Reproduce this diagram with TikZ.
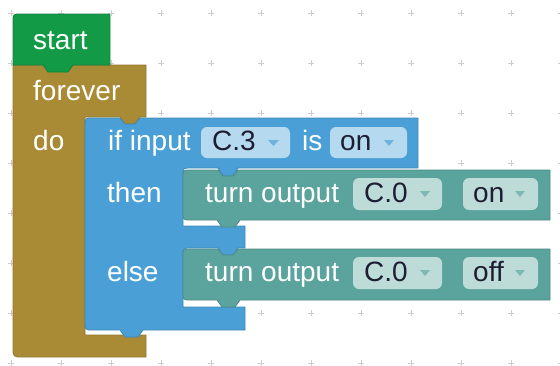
\documentclass[tikz,border=0pt]{standalone}
\usepackage{fontspec}
\setmainfont{Liberation Sans}
\usetikzlibrary{positioning}

\definecolor{startGreen}{HTML}{129A47}
\definecolor{foreverBrown}{HTML}{A98B36}
\definecolor{ifBlue}{HTML}{4AA0D6}
\definecolor{outTeal}{HTML}{5BA39D}
\definecolor{blueFieldFill}{HTML}{B5DAF0}
\definecolor{tealFieldFill}{HTML}{BDDCD8}
\definecolor{blueArrow}{HTML}{6FB2DD}
\definecolor{tealArrow}{HTML}{7DB8B3}
\definecolor{fieldInk}{HTML}{1E1E32}
\definecolor{gridGray}{HTML}{CCCCCC}

\begin{document}
\begin{tikzpicture}[x=1pt,y=-1pt,
	blocktext/.style={anchor=base west,inner sep=0pt,text=white,font=\fontsize{28}{30}\selectfont},
	fieldtext/.style={blocktext,text=fieldInk},
	blueField/.style={fill=blueFieldFill},
	tealField/.style={fill=tealFieldFill},
	gridcross/.style={draw=gridGray,line width=1pt}]
		
		\useasboundingbox (0,0) rectangle (560,365);
		
		%Workspace grid
		\foreach \gx in {0,...,11}{
			\foreach \gy in {0,...,7}{
				\draw[gridcross] (8+50*\gx,13+50*\gy) -- ++(6,0) (11+50*\gx,10+50*\gy) -- ++(0,6);
			}
		}
		
		%Forever block
		\filldraw[fill=foreverBrown,draw=foreverBrown!85!black,line width=0.8pt] (13,65) -- (146,65) -- (146,117) -- (140,117) -- (135,124) -- (125,124) -- (120,117) -- (85,117) -- (85,335) -- (146,335) -- (146,357) -- (23,357) .. controls (13,357) .. (13,347) -- cycle;
		
		%Start block
		\filldraw[fill=startGreen,draw=startGreen!85!black,line width=0.8pt] (13,65) -- (13,22) .. controls (13,14) .. (21,14) -- (108,14) .. controls (110,14) .. (110,16) -- (110,65) -- (73,65) -- (68,72) -- (48,72) -- (43,65) -- cycle;
		
		%If block
		\filldraw[fill=ifBlue,draw=ifBlue!85!black,line width=0.8pt] (85,126) .. controls (85,118) .. (93,118) -- (120,118) -- (125,124) -- (135,124) -- (140,118) -- (418,118) -- (418,168) -- (238,168) -- (233,176) -- (223,176) -- (218,168) -- (191,168) .. controls (183,168) .. (183,176) -- (183,226) -- (245,226) -- (245,248) -- (238,248) -- (233,255) -- (223,255) -- (218,248) -- (191,248) .. controls (183,248) .. (183,256) -- (183,307) -- (245,307) -- (245,330) -- (143,330) -- (138,337) -- (125,337) -- (120,330) -- (93,330) .. controls (85,330) .. (85,322) -- cycle;
		
		%Turn output blocks
		\filldraw[fill=outTeal,draw=outTeal!85!black,line width=0.8pt] (183,178) .. controls (183,170) .. (191,170) -- (218,170) -- (223,176) -- (233,176) -- (238,170) -- (550,170) -- (550,220) -- (240,220) -- (235,227) -- (222,227) -- (217,220) -- (191,220) .. controls (183,220) .. (183,212) -- cycle;
		\filldraw[fill=outTeal,draw=outTeal!85!black,line width=0.8pt] (183,257) .. controls (183,249) .. (191,249) -- (218,249) -- (223,255) -- (233,255) -- (238,249) -- (550,249) -- (550,300) -- (240,300) -- (235,307) -- (222,307) -- (217,300) -- (191,300) .. controls (183,300) .. (183,292) -- cycle;
		
		%Dropdown fields
		\fill[blueField,rounded corners=6pt] (201,127) rectangle (290,158);
		\fill[blueField,rounded corners=6pt] (330,127) rectangle (407,158);
		\fill[tealField,rounded corners=6pt] (353,178) rectangle (442,210);
		\fill[tealField,rounded corners=6pt] (463,178) rectangle (538,210);
		\fill[tealField,rounded corners=6pt] (353,257) rectangle (442,289);
		\fill[tealField,rounded corners=6pt] (463,257) rectangle (538,289);
		
		%Dropdown arrows
		\fill[blueArrow] (268,140) -- (279,140) -- (273.5,146) -- cycle;
		\fill[blueArrow] (384,140) -- (394,140) -- (389,146) -- cycle;
		\fill[tealArrow] (420,191) -- (430,191) -- (425,197) -- cycle;
		\fill[tealArrow] (515,191) -- (525,191) -- (520,197) -- cycle;
		\fill[tealArrow] (420,270) -- (430,270) -- (425,276) -- cycle;
		\fill[tealArrow] (515,270) -- (525,270) -- (520,276) -- cycle;
		
		%Block labels
		\node (startLabel) at (33,49) [blocktext]{start};
		\node (foreverLabel) at (33,100) [blocktext]{forever};
		\node (doLabel) at (33,150) [blocktext]{do};
		\node (ifLabel) at (108,150) [blocktext]{if input};
		\node (isLabel) at (302,150) [blocktext]{is};
		\node (thenLabel) at (107,202) [blocktext]{then};
		\node (elseLabel) at (107,281) [blocktext]{else};
		\node (turnOnLabel) at (205,202) [blocktext]{turn output};
		\node (turnOffLabel) at (205,281) [blocktext]{turn output};
		
		%Field values
		\node (inputPin) at (212,150) [fieldtext]{C.3};
		\node (inputState) at (340,150) [fieldtext]{on};
		\node (outputPinOn) at (364,202) [fieldtext]{C.0};
		\node (outputOn) at (473,202) [fieldtext]{on};
		\node (outputPinOff) at (364,281) [fieldtext]{C.0};
		\node (outputOff) at (473,281) [fieldtext]{off};
		
\end{tikzpicture}
\end{document}
